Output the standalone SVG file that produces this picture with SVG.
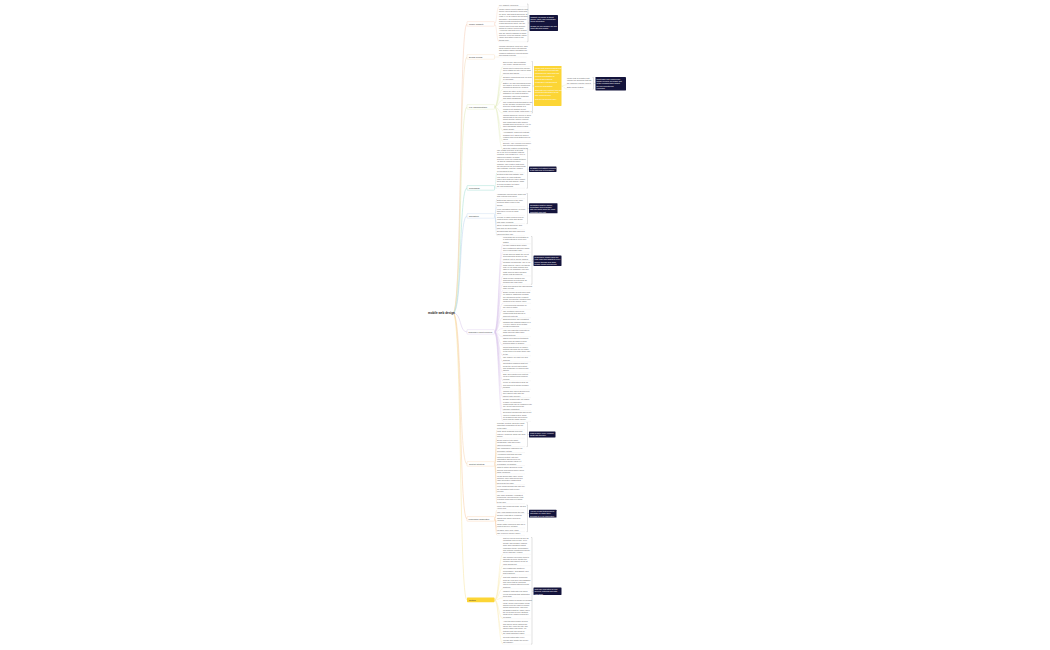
<svg xmlns="http://www.w3.org/2000/svg" width="1050" height="650" viewBox="0 0 1050 650">
<style>
text{font-family:"Liberation Sans",Arial,sans-serif}
.t{font-size:1.9px;fill:#666}
.w{font-size:1.9px;fill:#fff}
.b{font-size:2.1px;fill:#333}
.r{font-size:3px;fill:#222;font-weight:bold}
.u{stroke:#e2e2e2;stroke-width:0.25}
.k{fill:none;stroke:#9a9a9a;stroke-width:0.3}
.bx{fill:#fff;stroke-width:0.35}
.dk{fill:#14143c}
.c path{fill:none}
.m{stroke-width:0.5}
.l{stroke-width:0.3}
</style>
<rect width="1050" height="650" fill="#fff"/>
<g id="connectors" class="c">
<path class="m" stroke="#f5c9b0" d="M453,313 C462,313 459,24 467,24"/>
<path class="m" stroke="#f3d9b5" d="M453,313 C462,313 459,57 467,57"/>
<path class="m" stroke="#dde8b0" d="M453,313 C462,313 459,107 467,107"/>
<path class="m" stroke="#9fdcd0" d="M453,313 C462,313 459,188 467,188"/>
<path class="m" stroke="#b9d0ec" d="M453,313 C462,313 459,216 467,216"/>
<path class="m" stroke="#d9c6ea" d="M453,313 C462,313 459,332 467,332"/>
<path class="m" stroke="#f6d2aa" d="M453,313 C462,313 459,464 467,464"/>
<path class="m" stroke="#f8c99c" d="M453,313 C462,313 459,519 467,519"/>
<path class="m" stroke="#f7e39a" d="M453,313 C462,313 459,600 467,600"/>
<g class="l" stroke="#f5c9b0">
<path d="M494.5,24 C497,24 496.5,6.7 499,6.7"/><path d="M494.5,24 C497,24 496.5,41.7 499,41.7"/>
</g>
<g class="l" stroke="#f3d9b5"><path d="M494.5,57 C497,57 496.5,57.05 499,57.05"/></g>
<g class="l" stroke="#dde8b0">
<path d="M494.5,107 C499,107 498.5,66.5 503,66.5"/><path d="M494.5,107 C499,107 498.5,74.85 503,74.85"/><path d="M494.5,107 C499,107 498.5,80.9 503,80.9"/><path d="M494.5,107 C499,107 498.5,89.25 503,89.25"/><path d="M494.5,107 C499,107 498.5,100 503,100"/><path d="M494.5,107 C499,107 498.5,113.05 503,113.05"/><path d="M494.5,107 C499,107 498.5,130.75 503,130.75"/><path d="M494.5,107 C499,107 498.5,141.5 503,141.5"/><path d="M494.5,107 C499,107 498.5,149.85 503,149.85"/>
<path d="M561.5,86 C564,86 564,84.85 567,84.85"/><path d="M561.5,86 C564,86 564,89.15 567,89.15"/>
</g>
<g class="l" stroke="#9fdcd0">
<path d="M494.5,188 C496,188 495.5,172.8 497,172.8"/><path d="M494.5,188 C496,188 495.5,188.2 497,188.2"/>
</g>
<g class="l" stroke="#b9d0ec">
<path d="M494.5,216 C496,216 495.5,198.5 497,198.5"/><path d="M494.5,216 C496,216 495.5,206.85 497,206.85"/><path d="M494.5,216 C496,216 495.5,215.25 497,215.25"/><path d="M494.5,216 C496,216 495.5,223.65 497,223.65"/><path d="M494.5,216 C496,216 495.5,229.7 497,229.7"/><path d="M494.5,216 C496,216 495.5,235.7 497,235.7"/>
</g>
<g class="l" stroke="#d9c6ea">
<path d="M494.5,332 C499,332 498.5,243.85 503,243.85"/><path d="M494.5,332 C499,332 498.5,252.2 503,252.2"/><path d="M494.5,332 C499,332 498.5,260.55 503,260.55"/><path d="M494.5,332 C499,332 498.5,275.95 503,275.95"/><path d="M494.5,332 C499,332 498.5,284.3 503,284.3"/><path d="M494.5,332 C499,332 498.5,290.3 503,290.3"/><path d="M494.5,332 C499,332 498.5,303.35 503,303.35"/><path d="M494.5,332 C499,332 498.5,309.35 503,309.35"/><path d="M494.5,332 C499,332 498.5,317.7 503,317.7"/><path d="M494.5,332 C499,332 498.5,328.4 503,328.4"/><path d="M494.5,332 C499,332 498.5,336.75 503,336.75"/><path d="M494.5,332 C499,332 498.5,345.1 503,345.1"/><path d="M494.5,332 C499,332 498.5,355.8 503,355.8"/><path d="M494.5,332 C499,332 498.5,361.8 503,361.8"/><path d="M494.5,332 C499,332 498.5,372.5 503,372.5"/><path d="M494.5,332 C499,332 498.5,380.85 503,380.85"/><path d="M494.5,332 C499,332 498.5,389.2 503,389.2"/><path d="M494.5,332 C499,332 498.5,397.55 503,397.55"/><path d="M494.5,332 C499,332 498.5,410.6 503,410.6"/><path d="M494.5,332 C499,332 498.5,421.3 503,421.3"/>
</g>
<g class="l" stroke="#f6d2aa">
<path d="M494.5,464 C496,464 495.5,429.85 497,429.85"/><path d="M494.5,464 C496,464 495.5,438.2 497,438.2"/><path d="M494.5,464 C496,464 495.5,446.55 497,446.55"/><path d="M494.5,464 C496,464 495.5,452.55 497,452.55"/><path d="M494.5,464 C496,464 495.5,465.6 497,465.6"/><path d="M494.5,464 C496,464 495.5,473.95 497,473.95"/><path d="M494.5,464 C496,464 495.5,484.65 497,484.65"/><path d="M494.5,464 C496,464 495.5,493 497,493"/><path d="M494.5,464 C496,464 495.5,503.7 497,503.7"/>
</g>
<g class="l" stroke="#f8c99c">
<path d="M494.5,519 C496,519 495.5,510 497,510"/><path d="M494.5,519 C496,519 495.5,513.65 497,513.65"/><path d="M494.5,519 C496,519 495.5,522 497,522"/><path d="M494.5,519 C496,519 495.5,528 497,528"/><path d="M494.5,519 C496,519 495.5,531.65 497,531.65"/><path d="M494.5,519 C496,519 495.5,535.3 497,535.3"/>
</g>
<g class="l" stroke="#f7e39a">
<path d="M494.5,600 C499,600 498.5,554.25 503,554.25"/><path d="M494.5,600 C499,600 498.5,565.75 503,565.75"/><path d="M494.5,600 C499,600 498.5,574.9 503,574.9"/><path d="M494.5,600 C499,600 498.5,588.75 503,588.75"/><path d="M494.5,600 C499,600 498.5,597.9 503,597.9"/><path d="M494.5,600 C499,600 498.5,618.8 503,618.8"/><path d="M494.5,600 C499,600 498.5,635 503,635"/><path d="M494.5,600 C499,600 498.5,644.15 503,644.15"/>
</g>
<path class="k" d="M527,4 H528 V41.7 H527 M528,23 H529.5"/>
<path class="k" d="M531.5,61.5 H532.5 V113.05 H531.5 M532.5,86 H534"/>
<path class="k" d="M592.5,77.5 H593.5 V89.15 H592.5 M593.5,83.5 H595.5"/>
<path class="k" d="M526.5,148.5 H527.5 V188.2 H526.5 M527.5,169.2 H529"/>
<path class="k" d="M526.5,193.5 H527.5 V223.65 H526.5 M527.5,208.3 H529"/>
<path class="k" d="M531,236.5 H532 V284.3 H531 M532,260.75 H533.5"/>
<path class="k" d="M526.5,422.5 H527.5 V446.55 H526.5 M527.5,434.5 H529"/>
<path class="k" d="M526.5,505 H527.5 V531.65 H526.5 M527.5,513.5 H529"/>
<path class="k" d="M531,537.5 H532 V644.15 H531 M532,591.25 H533.5"/>
</g>
<g id="root"><text class="r" x="428" y="314">mobile web design</text></g>
<g id="b1">
<rect class="bx" stroke="#f5c9b0" x="467" y="21.6" width="27.5" height="4.6" rx="0.6"/>
<text class="b" x="469" y="24.75">Mobile Usability</text>
</g>
<g id="b1-leaves">
<text class="t" x="499" y="5.6">Key usability principles</text>
<line class="u" x1="499" y1="6.7" x2="527" y2="6.7"/>
<text class="t" x="499" y="10.1"><tspan x="499" dy="0">Mobile users expect pages to load</tspan><tspan x="499" dy="2.35">quickly and respond to touch with</tspan><tspan x="499" dy="2.35">no delay. Tap targets should be at</tspan><tspan x="499" dy="2.35">least 44 px so fingers can hit them</tspan><tspan x="499" dy="2.35">accurately, and spacing between</tspan><tspan x="499" dy="2.35">links prevents accidental taps.</tspan><tspan x="499" dy="2.35">Forms should be short, use the</tspan><tspan x="499" dy="2.35">correct input types and support</tspan><tspan x="499" dy="2.35">autofill to reduce typing effort.</tspan><tspan x="499" dy="2.35">Avoid pop-ups that cover content</tspan><tspan x="499" dy="2.35">and are hard to dismiss on small</tspan><tspan x="499" dy="2.35">screens. Keep the primary action</tspan><tspan x="499" dy="2.35">visible and within reach of the</tspan><tspan x="499" dy="2.35">thumb zone.</tspan></text>
<line class="u" x1="499" y1="41.7" x2="527" y2="41.7"/>
</g>
<g id="b1-summary">
<rect class="dk" x="529.5" y="15" width="28.5" height="16" rx="0.4"/>
<text class="w" x="530.5" y="17.6"><tspan x="530.5" dy="0">Usability on mobile is about</tspan><tspan x="530.5" dy="2.35">speed, clarity and comfortable</tspan><tspan x="530.5" dy="2.35">touch interaction.</tspan><tspan x="530.5" dy="4.2">Design for one handed use and</tspan><tspan x="530.5" dy="2.35">short attention spans.</tspan></text>
</g>
<g id="b2">
<rect class="bx" stroke="#f3d9b5" x="467" y="54.6" width="27.5" height="4.6" rx="0.6"/>
<text class="b" x="469" y="57.75">Design Trends</text>
</g>
<g id="b2-leaves">
<text class="t" x="499" y="46.6"><tspan x="499" dy="0">Minimal interfaces, bold type, dark</tspan><tspan x="499" dy="2.35">mode support, micro-interactions</tspan><tspan x="499" dy="2.35">and gesture based navigation are</tspan><tspan x="499" dy="2.35">common patterns in current mobile</tspan><tspan x="499" dy="2.35">web design projects.</tspan></text>
<line class="u" x1="499" y1="57.05" x2="527" y2="57.05"/>
</g>
<g id="b3">
<rect class="bx" stroke="#dde8b0" x="467" y="104.6" width="27.5" height="4.6" rx="0.6"/>
<text class="b" x="469" y="107.75">Key Considerations</text>
</g>
<g id="b3-leaves">
<text class="t" x="503" y="63.1"><tspan x="503" dy="0">Screen size and orientation</tspan><tspan x="503" dy="2.35">vary widely across devices.</tspan></text>
<line class="u" x1="503" y1="66.5" x2="531" y2="66.5"/>
<text class="t" x="503" y="69.1"><tspan x="503" dy="0">Touch input replaces the mouse;</tspan><tspan x="503" dy="2.35">hover states do not exist on most</tspan><tspan x="503" dy="2.35">phones and tablets.</tspan></text>
<line class="u" x1="503" y1="74.85" x2="531" y2="74.85"/>
<text class="t" x="503" y="77.5"><tspan x="503" dy="0">Network connections may be slow</tspan><tspan x="503" dy="2.35">or unreliable.</tspan></text>
<line class="u" x1="503" y1="80.9" x2="531" y2="80.9"/>
<text class="t" x="503" y="83.5"><tspan x="503" dy="0">Battery life and processing power</tspan><tspan x="503" dy="2.35">are limited, so heavy scripts and</tspan><tspan x="503" dy="2.35">animations should be avoided.</tspan></text>
<line class="u" x1="503" y1="89.25" x2="531" y2="89.25"/>
<text class="t" x="503" y="91.9"><tspan x="503" dy="0">Users are often on the move and</tspan><tspan x="503" dy="2.35">distracted, so content must be</tspan><tspan x="503" dy="2.35">scannable with clear headings</tspan><tspan x="503" dy="2.35">and short paragraphs.</tspan></text>
<line class="u" x1="503" y1="100" x2="531" y2="100"/>
<text class="t" x="503" y="102.6"><tspan x="503" dy="0">The viewport meta tag must be set</tspan><tspan x="503" dy="2.35">so the browser renders the page</tspan><tspan x="503" dy="2.35">at device width instead of a</tspan><tspan x="503" dy="2.35">zoomed out desktop layout.</tspan><tspan x="503" dy="2.35">width=device-width, initial-scale=1</tspan></text>
<line class="u" x1="503" y1="113.05" x2="531" y2="113.05"/>
<text class="t" x="503" y="115.6"><tspan x="503" dy="0">Images should be served in sizes</tspan><tspan x="503" dy="2.35">appropriate to the screen using</tspan><tspan x="503" dy="2.35">srcset and the picture element,</tspan><tspan x="503" dy="2.35">and compressed with modern</tspan><tspan x="503" dy="2.35">formats such as WebP or AVIF to</tspan><tspan x="503" dy="2.35">save bandwidth without losing</tspan><tspan x="503" dy="2.35">visible quality.</tspan></text>
<line class="u" x1="503" y1="130.75" x2="531" y2="130.75"/>
<text class="t" x="503" y="133.4"><tspan x="503" dy="0">Accessibility: sufficient contrast,</tspan><tspan x="503" dy="2.35">scalable text, labels for screen</tspan><tspan x="503" dy="2.35">readers and focus states help all</tspan><tspan x="503" dy="2.35">users.</tspan></text>
<line class="u" x1="503" y1="141.5" x2="531" y2="141.5"/>
<text class="t" x="503" y="144.1"><tspan x="503" dy="0">Security: use HTTPS everywhere</tspan><tspan x="503" dy="2.35">and request permissions only</tspan><tspan x="503" dy="2.35">when the feature needs them.</tspan></text>
<line class="u" x1="503" y1="149.85" x2="531" y2="149.85"/>
</g>
<g id="b3-mobile-first">
<rect x="534" y="66" width="27.5" height="40" fill="#fcd535" rx="0.4"/>
<text class="w" x="535" y="68.8"><tspan x="535" dy="0">Mobile first means designing for</tspan><tspan x="535" dy="2.35">the smallest screen first and</tspan><tspan x="535" dy="2.35">enhancing for larger screens.</tspan><tspan x="535" dy="3.8">It forces prioritisation of</tspan><tspan x="535" dy="2.35">content and features.</tspan><tspan x="535" dy="3.8">Progressive enhancement</tspan><tspan x="535" dy="3.8">Graceful degradation</tspan><tspan x="535" dy="3.8">Start with core content, then add</tspan><tspan x="535" dy="2.35">layout and interaction layers</tspan><tspan x="535" dy="2.35">with media queries.</tspan><tspan x="535" dy="4.2">Test on real devices early.</tspan></text>
</g>
<g id="b3-side">
<text class="t" x="567" y="79.1"><tspan x="567" dy="0">Mobile first vs desktop first:</tspan><tspan x="567" dy="2.35">choose the approach that fits</tspan><tspan x="567" dy="2.35">the audience and the project.</tspan></text>
<line class="u" x1="567" y1="84.85" x2="592" y2="84.85"/>
<text class="t" x="567" y="88.1">Both require testing.</text>
<line class="u" x1="567" y1="89.15" x2="592" y2="89.15"/>
</g>
<g id="b3-summary">
<rect class="dk" x="595.5" y="77" width="30.5" height="13.5" rx="0.4"/>
<text class="w" x="596.5" y="79.6"><tspan x="596.5" dy="0">Most traffic now comes from</tspan><tspan x="596.5" dy="2.35">mobile devices, so mobile first</tspan><tspan x="596.5" dy="2.35">is the recommended default</tspan><tspan x="596.5" dy="2.35">for new projects and</tspan><tspan x="596.5" dy="2.35">redesigns.</tspan></text>
</g>
<g id="b4">
<rect class="bx" stroke="#7fd0c2" x="467" y="185.6" width="27.5" height="4.6" rx="0.6"/>
<text class="b" x="469" y="188.75">Typography</text>
</g>
<g id="b4-leaves">
<text class="t" x="497" y="150.6"><tspan x="497" dy="0">Use a base font size of at least</tspan><tspan x="497" dy="2.35">16 px so text is readable without</tspan><tspan x="497" dy="2.35">zooming. Line height of 1.4 to 1.6</tspan><tspan x="497" dy="2.35">improves legibility on small</tspan><tspan x="497" dy="2.35">screens. Keep line length between</tspan><tspan x="497" dy="2.35">45 and 75 characters where</tspan><tspan x="497" dy="2.35">possible. Use relative units such</tspan><tspan x="497" dy="2.35">as rem and em so text scales with</tspan><tspan x="497" dy="2.35">user settings. Limit the number</tspan><tspan x="497" dy="2.35">of typefaces to two.</tspan></text>
<line class="u" x1="497" y1="172.8" x2="525" y2="172.8"/>
<text class="t" x="497" y="175.4"><tspan x="497" dy="0">System fonts load instantly and</tspan><tspan x="497" dy="2.35">look native on each platform.</tspan><tspan x="497" dy="2.35">When web fonts are used, subset</tspan><tspan x="497" dy="2.35">them and use font-display: swap</tspan><tspan x="497" dy="2.35">to avoid invisible text while</tspan><tspan x="497" dy="2.35">the font downloads.</tspan></text>
<line class="u" x1="497" y1="188.2" x2="525" y2="188.2"/>
</g>
<g id="b4-summary">
<rect class="dk" x="529" y="166.5" width="27.5" height="5.5" rx="0.4"/>
<text class="w" x="530" y="168.8"><tspan x="530" dy="0">Readable text without zooming</tspan><tspan x="530" dy="2.35">is the first goal of typography.</tspan></text>
</g>
<g id="b5">
<rect class="bx" stroke="#b9d0ec" x="467" y="213.6" width="27.5" height="4.6" rx="0.6"/>
<text class="b" x="469" y="216.75">Navigation</text>
</g>
<g id="b5-leaves">
<text class="t" x="497" y="195.1"><tspan x="497" dy="0">Hamburger menus save space but</tspan><tspan x="497" dy="2.35">hide options from users.</tspan></text>
<line class="u" x1="497" y1="198.5" x2="525" y2="198.5"/>
<text class="t" x="497" y="201.1"><tspan x="497" dy="0">Bottom tab bars keep the main</tspan><tspan x="497" dy="2.35">sections within reach of the</tspan><tspan x="497" dy="2.35">thumb.</tspan></text>
<line class="u" x1="497" y1="206.85" x2="525" y2="206.85"/>
<text class="t" x="497" y="209.5"><tspan x="497" dy="0">Keep navigation shallow: no more</tspan><tspan x="497" dy="2.35">than three levels for most</tspan><tspan x="497" dy="2.35">sites.</tspan></text>
<line class="u" x1="497" y1="215.25" x2="525" y2="215.25"/>
<text class="t" x="497" y="217.9"><tspan x="497" dy="0">Provide a visible search field on</tspan><tspan x="497" dy="2.35">content heavy sites and shops</tspan><tspan x="497" dy="2.35">with many products.</tspan></text>
<line class="u" x1="497" y1="223.65" x2="525" y2="223.65"/>
<text class="t" x="497" y="226.3"><tspan x="497" dy="0">Sticky headers should be slim</tspan><tspan x="497" dy="2.35">and hide on scroll down.</tspan></text>
<line class="u" x1="497" y1="229.7" x2="525" y2="229.7"/>
<text class="t" x="497" y="232.3"><tspan x="497" dy="0">Breadcrumbs and back links help</tspan><tspan x="497" dy="2.35">users find their way.</tspan></text>
<line class="u" x1="497" y1="235.7" x2="525" y2="235.7"/>
</g>
<g id="b5-summary">
<rect class="dk" x="529" y="203.3" width="28.5" height="10" rx="0.4"/>
<text class="w" x="530" y="205.7"><tspan x="530" dy="0">Navigation must be simple,</tspan><tspan x="530" dy="2.35">predictable and reachable</tspan><tspan x="530" dy="2.35">with one hand; show the most</tspan><tspan x="530" dy="2.35">important links first.</tspan></text>
</g>
<g id="b6">
<rect class="bx" stroke="#d9c6ea" x="467" y="329.6" width="27.5" height="4.6" rx="0.6"/>
<text class="b" x="468.5" y="332.75" style="font-size:1.8px">Responsive Layout Principles</text>
</g>
<g id="b6-leaves">
<text class="t" x="503" y="238.1"><tspan x="503" dy="0">Fluid grids use percentages or</tspan><tspan x="503" dy="2.35">fr units instead of fixed pixel</tspan><tspan x="503" dy="2.35">widths.</tspan></text>
<line class="u" x1="503" y1="243.85" x2="531" y2="243.85"/>
<text class="t" x="503" y="246.45"><tspan x="503" dy="0">Flexible images scale within</tspan><tspan x="503" dy="2.35">their containers with max-width:</tspan><tspan x="503" dy="2.35">100% and height: auto.</tspan></text>
<line class="u" x1="503" y1="252.2" x2="531" y2="252.2"/>
<text class="t" x="503" y="254.8"><tspan x="503" dy="0">Media queries adapt the layout</tspan><tspan x="503" dy="2.35">at breakpoints chosen by the</tspan><tspan x="503" dy="2.35">content, not by device models.</tspan></text>
<line class="u" x1="503" y1="260.55" x2="531" y2="260.55"/>
<text class="t" x="503" y="263.15"><tspan x="503" dy="0">Common breakpoints: 480 px for</tspan><tspan x="503" dy="2.35">small phones, 768 px for tablets,</tspan><tspan x="503" dy="2.35">1024 px for small laptops and</tspan><tspan x="503" dy="2.35">1280 px for desktops. Use min-</tspan><tspan x="503" dy="2.35">width queries when building</tspan><tspan x="503" dy="2.35">mobile first stylesheets.</tspan></text>
<line class="u" x1="503" y1="275.95" x2="531" y2="275.95"/>
<text class="t" x="503" y="278.55"><tspan x="503" dy="0">CSS Flexbox handles one</tspan><tspan x="503" dy="2.35">dimensional layouts such as</tspan><tspan x="503" dy="2.35">toolbars and card rows.</tspan></text>
<line class="u" x1="503" y1="284.3" x2="531" y2="284.3"/>
<text class="t" x="503" y="286.9"><tspan x="503" dy="0">CSS Grid handles two dimensional</tspan><tspan x="503" dy="2.35">page layouts.</tspan></text>
<line class="u" x1="503" y1="290.3" x2="531" y2="290.3"/>
<text class="t" x="503" y="292.9"><tspan x="503" dy="0">Single column layouts work best</tspan><tspan x="503" dy="2.35">on phones; additional columns</tspan><tspan x="503" dy="2.35">are introduced as the viewport</tspan><tspan x="503" dy="2.35">grows, keeping the reading order</tspan><tspan x="503" dy="2.35">identical to the source order.</tspan></text>
<line class="u" x1="503" y1="303.35" x2="531" y2="303.35"/>
<text class="t" x="503" y="305.95"><tspan x="503" dy="0">Avoid horizontal scrolling on</tspan><tspan x="503" dy="2.35">any screen width.</tspan></text>
<line class="u" x1="503" y1="309.35" x2="531" y2="309.35"/>
<text class="t" x="503" y="311.95"><tspan x="503" dy="0">Use container queries for</tspan><tspan x="503" dy="2.35">components that appear in</tspan><tspan x="503" dy="2.35">different contexts.</tspan></text>
<line class="u" x1="503" y1="317.7" x2="531" y2="317.7"/>
<text class="t" x="503" y="320.3"><tspan x="503" dy="0">Spacing scales: use consistent</tspan><tspan x="503" dy="2.35">margins and padding based on a</tspan><tspan x="503" dy="2.35">4 or 8 px grid to keep rhythm</tspan><tspan x="503" dy="2.35">across breakpoints.</tspan></text>
<line class="u" x1="503" y1="328.4" x2="531" y2="328.4"/>
<text class="t" x="503" y="331"><tspan x="503" dy="0">Hide non essential elements on</tspan><tspan x="503" dy="2.35">small screens rather than</tspan><tspan x="503" dy="2.35">shrinking them.</tspan></text>
<line class="u" x1="503" y1="336.75" x2="531" y2="336.75"/>
<text class="t" x="503" y="339.35"><tspan x="503" dy="0">Tables need special treatment:</tspan><tspan x="503" dy="2.35">stack rows as cards or allow</tspan><tspan x="503" dy="2.35">scrolling within a wrapper.</tspan></text>
<line class="u" x1="503" y1="345.1" x2="531" y2="345.1"/>
<text class="t" x="503" y="347.7"><tspan x="503" dy="0">Touch targets grow on mobile;</tspan><tspan x="503" dy="2.35">buttons can span the full width</tspan><tspan x="503" dy="2.35">of the screen to make them easy</tspan><tspan x="503" dy="2.35">to tap.</tspan></text>
<line class="u" x1="503" y1="355.8" x2="531" y2="355.8"/>
<text class="t" x="503" y="358.4"><tspan x="503" dy="0">Use clamp() for fluid type and</tspan><tspan x="503" dy="2.35">spacing.</tspan></text>
<line class="u" x1="503" y1="361.8" x2="531" y2="361.8"/>
<text class="t" x="503" y="364.4"><tspan x="503" dy="0">Orientation changes must not</tspan><tspan x="503" dy="2.35">break the layout; test portrait</tspan><tspan x="503" dy="2.35">and landscape on phones and</tspan><tspan x="503" dy="2.35">tablets.</tspan></text>
<line class="u" x1="503" y1="372.5" x2="531" y2="372.5"/>
<text class="t" x="503" y="375.1"><tspan x="503" dy="0">Safe area insets keep content</tspan><tspan x="503" dy="2.35">clear of notches and rounded</tspan><tspan x="503" dy="2.35">corners.</tspan></text>
<line class="u" x1="503" y1="380.85" x2="531" y2="380.85"/>
<text class="t" x="503" y="383.45"><tspan x="503" dy="0">Prefer vh alternatives such as</tspan><tspan x="503" dy="2.35">dvh and svh to handle browser</tspan><tspan x="503" dy="2.35">toolbars.</tspan></text>
<line class="u" x1="503" y1="389.2" x2="531" y2="389.2"/>
<text class="t" x="503" y="391.8"><tspan x="503" dy="0">Images and videos should keep</tspan><tspan x="503" dy="2.35">their aspect ratio with the</tspan><tspan x="503" dy="2.35">aspect-ratio property.</tspan></text>
<line class="u" x1="503" y1="397.55" x2="531" y2="397.55"/>
<text class="t" x="503" y="400.15"><tspan x="503" dy="0">Design components, not pages:</tspan><tspan x="503" dy="2.35">a library of responsive</tspan><tspan x="503" dy="2.35">components can be combined into</tspan><tspan x="503" dy="2.35">any layout and keeps the</tspan><tspan x="503" dy="2.35">interface consistent.</tspan></text>
<line class="u" x1="503" y1="410.6" x2="531" y2="410.6"/>
<text class="t" x="503" y="413.2"><tspan x="503" dy="0">Document breakpoints and layout</tspan><tspan x="503" dy="2.35">rules in a shared style guide</tspan><tspan x="503" dy="2.35">so designers and developers</tspan><tspan x="503" dy="2.35">work from the same source.</tspan></text>
<line class="u" x1="503" y1="421.3" x2="531" y2="421.3"/>
</g>
<g id="b6-summary">
<rect class="dk" x="533.5" y="255.5" width="28" height="10.5" rx="0.4"/>
<text class="w" x="534.5" y="258.1"><tspan x="534.5" dy="0">Responsive design uses one</tspan><tspan x="534.5" dy="2.35">code base that adapts to every</tspan><tspan x="534.5" dy="2.35">screen through fluid grids,</tspan><tspan x="534.5" dy="2.35">flexible media and queries.</tspan></text>
</g>
<g id="b7">
<rect class="bx" stroke="#f6d2aa" x="467" y="461.6" width="27.5" height="4.6" rx="0.6"/>
<text class="b" x="469" y="464.75">Content Strategy</text>
</g>
<g id="b7-leaves">
<text class="t" x="497" y="424.1"><tspan x="497" dy="0">Prioritise content: show the most</tspan><tspan x="497" dy="2.35">important information at the top</tspan><tspan x="497" dy="2.35">of the page.</tspan></text>
<line class="u" x1="497" y1="429.85" x2="525" y2="429.85"/>
<text class="t" x="497" y="432.45"><tspan x="497" dy="0">Write short headings and front</tspan><tspan x="497" dy="2.35">load key words so users can scan</tspan><tspan x="497" dy="2.35">quickly.</tspan></text>
<line class="u" x1="497" y1="438.2" x2="525" y2="438.2"/>
<text class="t" x="497" y="440.8"><tspan x="497" dy="0">Break long text into short</tspan><tspan x="497" dy="2.35">paragraphs, lists and clearly</tspan><tspan x="497" dy="2.35">labelled sections.</tspan></text>
<line class="u" x1="497" y1="446.55" x2="525" y2="446.55"/>
<text class="t" x="497" y="449.15"><tspan x="497" dy="0">Use progressive disclosure for</tspan><tspan x="497" dy="2.35">secondary details.</tspan></text>
<line class="u" x1="497" y1="452.55" x2="525" y2="452.55"/>
<text class="t" x="497" y="455.15"><tspan x="497" dy="0">Accordions and tabs can hide</tspan><tspan x="497" dy="2.35">optional content, but core</tspan><tspan x="497" dy="2.35">information should never be</tspan><tspan x="497" dy="2.35">hidden from mobile users if it</tspan><tspan x="497" dy="2.35">is available on desktop.</tspan></text>
<line class="u" x1="497" y1="465.6" x2="525" y2="465.6"/>
<text class="t" x="497" y="468.2"><tspan x="497" dy="0">Calls to action should be clear,</tspan><tspan x="497" dy="2.35">specific and placed where users</tspan><tspan x="497" dy="2.35">make decisions.</tspan></text>
<line class="u" x1="497" y1="473.95" x2="525" y2="473.95"/>
<text class="t" x="497" y="476.55"><tspan x="497" dy="0">Media should add value: avoid</tspan><tspan x="497" dy="2.35">autoplay video with sound and</tspan><tspan x="497" dy="2.35">large decorative images that</tspan><tspan x="497" dy="2.35">slow down the page.</tspan></text>
<line class="u" x1="497" y1="484.65" x2="525" y2="484.65"/>
<text class="t" x="497" y="487.25"><tspan x="497" dy="0">Keep forms minimal and ask only</tspan><tspan x="497" dy="2.35">for information that is really</tspan><tspan x="497" dy="2.35">needed.</tspan></text>
<line class="u" x1="497" y1="493" x2="525" y2="493"/>
<text class="t" x="497" y="495.6"><tspan x="497" dy="0">Use plain language, consistent</tspan><tspan x="497" dy="2.35">terminology and microcopy that</tspan><tspan x="497" dy="2.35">explains errors and next steps</tspan><tspan x="497" dy="2.35">to the user.</tspan></text>
<line class="u" x1="497" y1="503.7" x2="525" y2="503.7"/>
</g>
<g id="b7-summary">
<rect class="dk" x="529" y="431.5" width="26.5" height="6" rx="0.4"/>
<text class="w" x="530" y="434"><tspan x="530" dy="0">Less is more: every element</tspan><tspan x="530" dy="2.35">must earn its place.</tspan></text>
</g>
<g id="b8">
<rect class="bx" stroke="#f8c99c" x="467" y="516.6" width="27.5" height="4.6" rx="0.6"/>
<text class="b" x="468.5" y="519.75" style="font-size:1.8px">Performance Optimization</text>
</g>
<g id="b8-leaves">
<text class="t" x="497" y="506.6"><tspan x="497" dy="0">Minify and compress CSS, JS and</tspan><tspan x="497" dy="2.35">HTML files.</tspan></text>
<line class="u" x1="497" y1="510" x2="525" y2="510"/>
<text class="t" x="497" y="512.6">Lazy load images below the fold.</text>
<line class="u" x1="497" y1="513.65" x2="525" y2="513.65"/>
<text class="t" x="497" y="516.25"><tspan x="497" dy="0">Reduce requests by bundling</tspan><tspan x="497" dy="2.35">assets and using HTTP/2 or</tspan><tspan x="497" dy="2.35">HTTP/3.</tspan></text>
<line class="u" x1="497" y1="522" x2="525" y2="522"/>
<text class="t" x="497" y="524.6"><tspan x="497" dy="0">Cache static resources and use a</tspan><tspan x="497" dy="2.35">content delivery network.</tspan></text>
<line class="u" x1="497" y1="528" x2="525" y2="528"/>
<text class="t" x="497" y="530.6">Measure Core Web Vitals.</text>
<line class="u" x1="497" y1="531.65" x2="525" y2="531.65"/>
<text class="t" x="497" y="534.25">Use a service worker offline.</text>
<line class="u" x1="497" y1="535.3" x2="525" y2="535.3"/>
</g>
<g id="b8-summary">
<rect class="dk" x="529" y="509.8" width="27.5" height="7.8" rx="0.4"/>
<text class="w" x="530" y="512.1"><tspan x="530" dy="0">Aim for a page that becomes</tspan><tspan x="530" dy="2.35">interactive in under three</tspan><tspan x="530" dy="2.35">seconds on a 4G connection.</tspan></text>
</g>
<g id="b9">
<rect x="467" y="597.6" width="27.5" height="4.6" rx="0.6" fill="#fcd535"/>
<text class="b" x="469" y="600.75">Testing</text>
</g>
<g id="b9-leaves">
<text class="t" x="503" y="539.1"><tspan x="503" dy="0">Test on real devices as well as</tspan><tspan x="503" dy="2.35">emulators: screen size, pixel</tspan><tspan x="503" dy="2.35">density and browser engines</tspan><tspan x="503" dy="2.35">differ and emulators cannot</tspan><tspan x="503" dy="2.35">reproduce touch, performance</tspan><tspan x="503" dy="2.35">and network conditions perfectly.</tspan><tspan x="503" dy="2.35">Cover iOS and Android.</tspan></text>
<line class="u" x1="503" y1="554.25" x2="531" y2="554.25"/>
<text class="t" x="503" y="557.65"><tspan x="503" dy="0">Use browser developer tools to</tspan><tspan x="503" dy="2.35">simulate devices, throttle the</tspan><tspan x="503" dy="2.35">network and inspect layout at</tspan><tspan x="503" dy="2.35">each breakpoint.</tspan></text>
<line class="u" x1="503" y1="565.75" x2="531" y2="565.75"/>
<text class="t" x="503" y="569.15"><tspan x="503" dy="0">Run Lighthouse audits for</tspan><tspan x="503" dy="2.35">performance, accessibility and</tspan><tspan x="503" dy="2.35">best practices.</tspan></text>
<line class="u" x1="503" y1="574.9" x2="531" y2="574.9"/>
<text class="t" x="503" y="578.3"><tspan x="503" dy="0">Test with assistive technology</tspan><tspan x="503" dy="2.35">such as VoiceOver and TalkBack</tspan><tspan x="503" dy="2.35">and check that all functions</tspan><tspan x="503" dy="2.35">can be reached without precise</tspan><tspan x="503" dy="2.35">gestures.</tspan></text>
<line class="u" x1="503" y1="588.75" x2="531" y2="588.75"/>
<text class="t" x="503" y="592.15"><tspan x="503" dy="0">Usability tests with real users</tspan><tspan x="503" dy="2.35">reveal problems that automated</tspan><tspan x="503" dy="2.35">tools miss.</tspan></text>
<line class="u" x1="503" y1="597.9" x2="531" y2="597.9"/>
<text class="t" x="503" y="601.3"><tspan x="503" dy="0">Check forms on mobile keyboards:</tspan><tspan x="503" dy="2.35">email, phone and number fields</tspan><tspan x="503" dy="2.35">should open the right keyboard,</tspan><tspan x="503" dy="2.35">autofill should work, and error</tspan><tspan x="503" dy="2.35">messages must be visible when</tspan><tspan x="503" dy="2.35">the keyboard is open. Buttons</tspan><tspan x="503" dy="2.35">must not be hidden behind the</tspan><tspan x="503" dy="2.35">keyboard.</tspan></text>
<line class="u" x1="503" y1="618.8" x2="531" y2="618.8"/>
<text class="t" x="503" y="622.2"><tspan x="503" dy="0">Analytics show which devices</tspan><tspan x="503" dy="2.35">and screen sizes visitors use,</tspan><tspan x="503" dy="2.35">where they leave the site and</tspan><tspan x="503" dy="2.35">which pages load slowly, so</tspan><tspan x="503" dy="2.35">testing effort can focus on</tspan><tspan x="503" dy="2.35">the most important cases.</tspan></text>
<line class="u" x1="503" y1="635" x2="531" y2="635"/>
<text class="t" x="503" y="638.4"><tspan x="503" dy="0">Repeat testing after every</tspan><tspan x="503" dy="2.35">release and update the device</tspan><tspan x="503" dy="2.35">list regularly.</tspan></text>
<line class="u" x1="503" y1="644.15" x2="531" y2="644.15"/>
</g>
<g id="b9-summary">
<rect class="dk" x="533.5" y="587.5" width="28" height="7.5" rx="0.4"/>
<text class="w" x="534.5" y="589.8"><tspan x="534.5" dy="0">Test early and often on real</tspan><tspan x="534.5" dy="2.35">devices, networks and with</tspan><tspan x="534.5" dy="2.35">real users.</tspan></text>
</g>
</svg>
